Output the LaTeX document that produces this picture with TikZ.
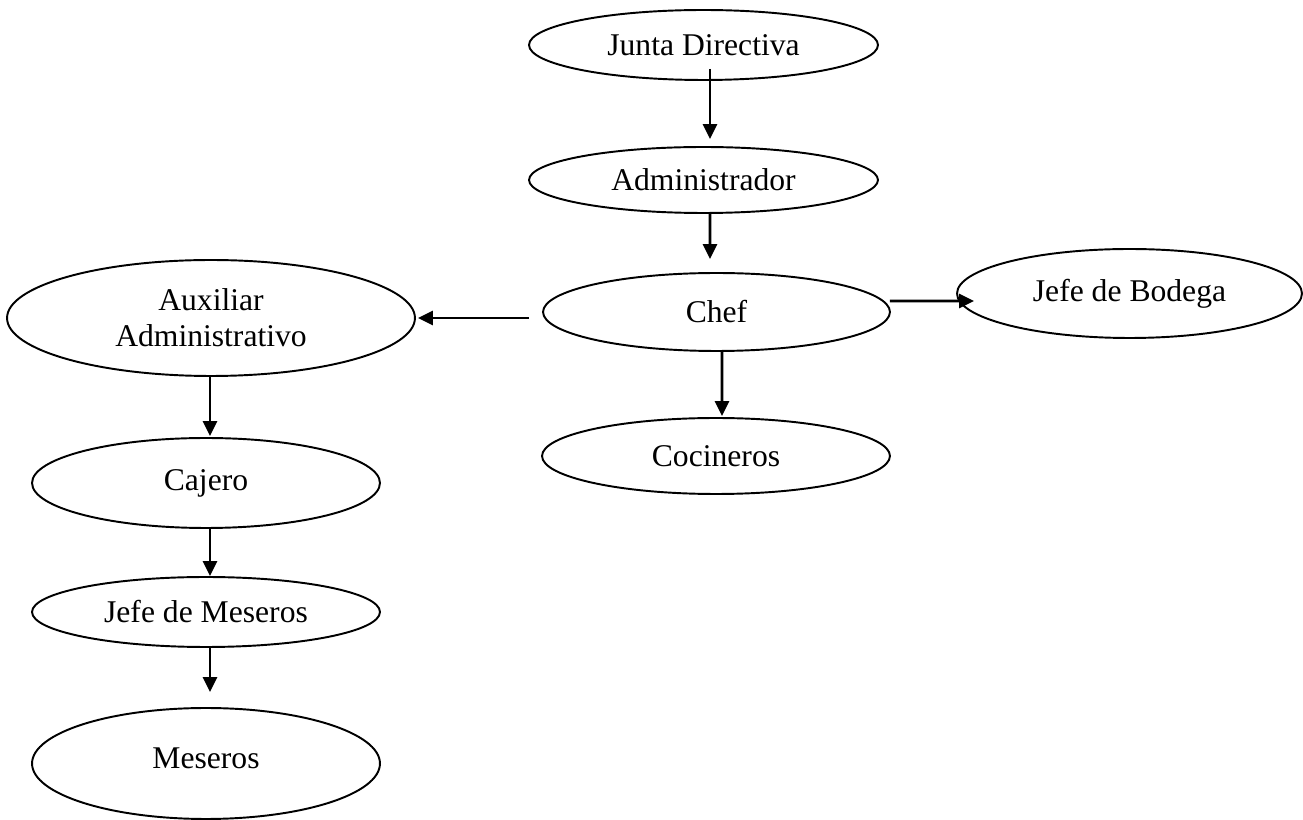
\documentclass[tikz,border=0pt]{standalone}
\usepackage{fontspec}
\setmainfont{Liberation Serif}
\usepackage{tikz}
\usetikzlibrary{arrows.meta, shapes.geometric}

\begin{document}
\begin{tikzpicture}[x=0.02cm, y=-0.02cm,
    cargo/.style={draw=black, ellipse, line width=1.1pt, inner sep=0pt, align=center,
      font=\fontsize{18}{20.5}\selectfont},
    flecha/.style={-{Triangle[width=0.28cm, length=0.3cm]}, line width=1.6pt, black}]
  \useasboundingbox (0,0) rectangle (1303,820);

  \node[cargo, minimum width=6.98cm, minimum height=1.4cm] (junta) at (703.5,45) {Junta Directiva};
  \node[cargo, minimum width=6.98cm, minimum height=1.32cm] (admin) at (703.5,180) {Administrador};
  \node[cargo, minimum width=6.94cm, minimum height=1.56cm] (chef) at (716.5,312) {Chef};
  \node[cargo, minimum width=6.9cm, minimum height=1.78cm] (bodega) at (1129.5,293.5) {Jefe de Bodega};
  \node[cargo, minimum width=6.96cm, minimum height=1.52cm] (cocineros) at (716,456) {Cocineros};
  \node[cargo, minimum width=8.16cm, minimum height=2.32cm] (aux) at (211,318) {Auxiliar\\Administrativo};
  \node[cargo, minimum width=6.96cm, minimum height=1.8cm] (cajero) at (206,483) {Cajero};
  \node[cargo, minimum width=6.96cm, minimum height=1.4cm] (jefemes) at (206,612) {Jefe de Meseros};
  \node[cargo, minimum width=6.96cm, minimum height=2.22cm] (meseros) at (206,763.5) {\raisebox{0.2cm}{Meseros}};

  \draw[flecha] ([shift={(6.5,-12)}]junta.south) -- ([shift={(6.5,-7)}]admin.north);
  \draw[flecha] ([shift={(6.5,0)}]admin.south) -- ([shift={(-6.5,-13)}]chef.north);
  \draw[flecha] ([shift={(5.5,0)}]chef.south) -- ([shift={(6,-1)}]cocineros.north);
  \draw[flecha] ([shift={(-13,6)}]chef.west) -- ([shift={(2,0)}]aux.east);
  \draw[flecha] ([shift={(-1,-11)}]chef.east) -- ([shift={(18,7.5)}]bodega.west);
  \draw[flecha] ([shift={(-1,0)}]aux.south) -- ([shift={(4,-1)}]cajero.north);
  \draw[flecha] ([shift={(4,0)}]cajero.south) -- ([shift={(4,0)}]jefemes.north);
  \draw[flecha] ([shift={(4,0)}]jefemes.south) -- ([shift={(4,-15)}]meseros.north);
\end{tikzpicture}
\end{document}
